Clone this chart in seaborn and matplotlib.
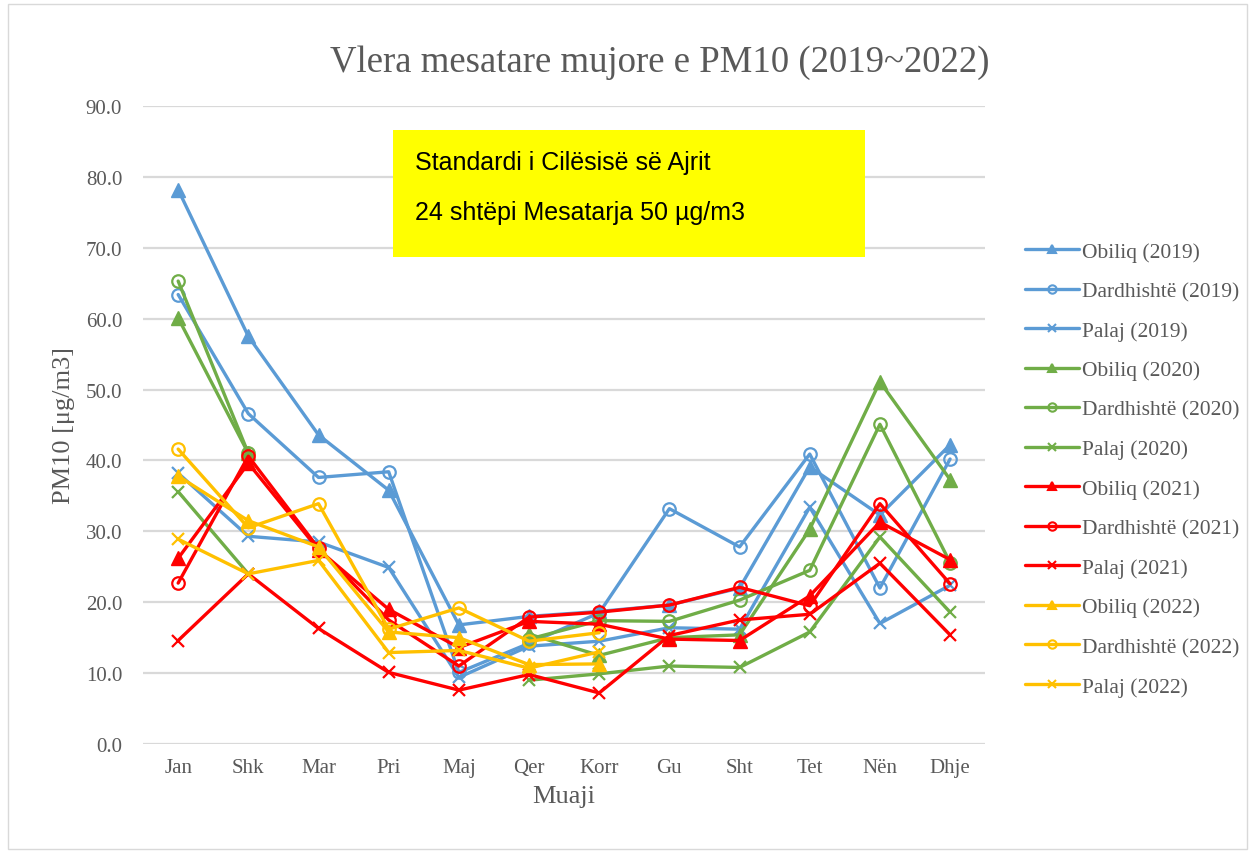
import numpy as np
import pandas as pd
import matplotlib
matplotlib.use("Agg")
import matplotlib.pyplot as plt
import seaborn as sns
from matplotlib.patches import Rectangle

nan = np.nan

# months (Albanian short names)
months = ['Jan', 'Shk', 'Mar', 'Pri', 'Maj', 'Qer', 'Korr', 'Gu', 'Sht', 'Tet', 'Nën', 'Dhje']

# monthly mean PM10
obiliq_2019 = [78.2, 57.5, 43.6, 35.8, 16.8, 18.0, 18.7, 19.6, 22.0, 39.1, 32.3, 42.2]
dardhishte_2019 = [63.4, 46.6, 37.6, 38.4, 10.1, 14.2, 18.5, 33.2, 27.8, 40.9, 22.0, 40.2]
palaj_2019 = [38.2, 29.3, 28.5, 24.9, 9.4, 13.8, 14.5, 16.4, 16.2, 33.4, 17.0, 22.4]

obiliq_2020 = [60.1, 41.0, nan, nan, nan, 15.5, 12.5, 15.0, 15.4, 30.3, 51.1, 37.3]
dardhishte_2020 = [65.3, 41.0, nan, nan, nan, 14.8, 17.4, 17.3, 20.3, 24.5, 45.1, 25.6]
palaj_2020 = [35.6, 24.0, nan, nan, nan, 9.0, 9.9, 11.0, 10.8, 15.8, 29.2, 18.6]

obiliq_2021 = [26.2, 39.6, 27.4, 19.0, 13.6, 17.3, 16.9, 14.8, 14.6, 20.9, 31.3, 26.0]
dardhishte_2021 = [22.7, 40.6, 27.6, 17.5, 11.0, 17.9, 18.6, 19.6, 22.1, 19.5, 33.9, 22.6]
palaj_2021 = [14.6, 24.0, 16.3, 10.1, 7.6, 9.8, 7.2, 15.3, 17.5, 18.3, 25.5, 15.4]

obiliq_2022 = [37.8, 31.5, 27.8, 15.8, 15.0, 11.2, 11.3, nan, nan, nan, nan, nan]
dardhishte_2022 = [41.6, 30.5, 33.9, 16.2, 19.2, 14.5, 15.7, nan, nan, nan, nan, nan]
palaj_2022 = [28.9, 24.0, 25.9, 12.9, 13.2, 10.7, 13.0, nan, nan, nan, nan, nan]

series = [
    ('Obiliq (2019)', obiliq_2019, '#5B9BD5', '^'),
    ('Dardhishtë (2019)', dardhishte_2019, '#5B9BD5', 'o'),
    ('Palaj (2019)', palaj_2019, '#5B9BD5', 'x'),
    ('Obiliq (2020)', obiliq_2020, '#70AD47', '^'),
    ('Dardhishtë (2020)', dardhishte_2020, '#70AD47', 'o'),
    ('Palaj (2020)', palaj_2020, '#70AD47', 'x'),
    ('Obiliq (2021)', obiliq_2021, '#FF0000', '^'),
    ('Dardhishtë (2021)', dardhishte_2021, '#FF0000', 'o'),
    ('Palaj (2021)', palaj_2021, '#FF0000', 'x'),
    ('Obiliq (2022)', obiliq_2022, '#FFC000', '^'),
    ('Dardhishtë (2022)', dardhishte_2022, '#FFC000', 'o'),
    ('Palaj (2022)', palaj_2022, '#FFC000', 'x'),
]

sns.set_style('white')
serif = ['Liberation Serif', 'DejaVu Serif']
txt_color = '#595959'

fig = plt.figure(figsize=(12.55, 8.53), dpi=100)
ax = fig.add_axes([0.114, 0.1266, 0.671, 0.748])

sizes = {'^': 10, 'o': 9, 'x': 9}
handles = []
for name, vals, color, mk in series:
    df = pd.DataFrame({'x': np.arange(len(months)), 'y': vals})
    # split into runs without gaps, so missing months stay empty
    run_id = df['y'].isna().cumsum()
    df = df.dropna()
    mkw = dict(marker=mk, markersize=sizes[mk], markeredgecolor=color,
               markeredgewidth=1.6 if mk != '^' else 1.0,
               markerfacecolor='none' if mk == 'o' else color)
    for _, seg in df.groupby(run_id[df.index]):
        sns.lineplot(data=seg, x='x', y='y', ax=ax, color=color,
                     linewidth=2.4, estimator=None, sort=False, **mkw)
    h, = ax.plot([], [], color=color, linewidth=2.4, marker=mk,
                 markersize=6, markeredgewidth=1.5,
                 markerfacecolor='none' if mk == 'o' else color,
                 markeredgecolor=color)
    handles.append((h, name))

ax.set_xlim(-0.5, 11.5)
ax.set_ylim(0, 90)
ax.set_yticks(np.arange(0, 91, 10))
ax.set_yticklabels([f'{v:.1f}' for v in np.arange(0, 91, 10)])
ax.set_xticks(np.arange(len(months)))
ax.set_xticklabels(months)
for lab in ax.get_xticklabels() + ax.get_yticklabels():
    lab.set_family(serif)
    lab.set_fontsize(15)
    lab.set_color(txt_color)
ax.tick_params(axis='y', length=0, pad=15)
ax.tick_params(axis='x', length=0, pad=10)
ax.grid(axis='y', color='#D9D9D9', linewidth=1.6)
ax.set_axisbelow(True)
for sp in ax.spines.values():
    sp.set_visible(False)

ax.set_xlabel('Muaji', family=serif, fontsize=19, color=txt_color, labelpad=6)
ax.set_ylabel('PM10 [μg/m3]', family=serif, fontsize=19, color=txt_color, labelpad=8)

fig.text(0.526, 0.927, 'Vlera mesatare mujore e PM10 (2019~2022)', family=serif,
         fontsize=26.5, color=txt_color, ha='center', va='center')

# standard box
fig.patches.append(Rectangle((393 / 1255, 1 - 258 / 853), 472 / 1255, 127 / 853,
                             transform=fig.transFigure, facecolor='#FFFF00',
                             edgecolor='none', zorder=5))
fig.text(415 / 1255, 1 - 163 / 853, 'Standardi i Cilësisë së Ajrit',
         family=['Liberation Sans', 'DejaVu Sans'], fontsize=18, color='black',
         va='center', zorder=6)
fig.text(415 / 1255, 1 - 213 / 853, '24 shtëpi Mesatarja 50 µg/m3',
         family=['Liberation Sans', 'DejaVu Sans'], fontsize=18, color='black',
         va='center', zorder=6)

leg = fig.legend([h for h, _ in handles], [n for _, n in handles],
                 loc='center left', bbox_to_anchor=(0.8015, 0.449),
                 frameon=False, handlelength=2.5, labelspacing=0.905,
                 handletextpad=0.15, prop={'family': serif, 'size': 15.5})
for t in leg.get_texts():
    t.set_color(txt_color)

# outer chart border
fig.patches.append(Rectangle((0.006, 0.004), 0.988, 0.99, transform=fig.transFigure,
                             facecolor='none', edgecolor='#D9D9D9', linewidth=1))

fig.savefig('out.png', dpi=100)
